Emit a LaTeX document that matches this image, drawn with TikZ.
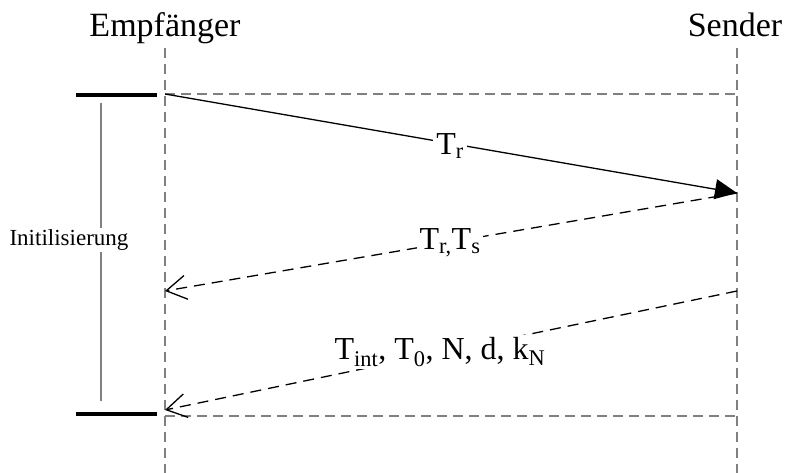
\documentclass[tikz,border=0pt]{standalone}
\usepackage{fontspec}
\setmainfont{Liberation Serif}
\usetikzlibrary{arrows.meta}
\tikzset{
  lifeline/.style={draw=gray, line width=1.2pt, dash pattern=on 10pt off 6pt},
  bar/.style={draw=black, line width=4pt},
  msg/.style={draw=black, line width=1.3pt},
  dmsg/.style={msg, dash pattern=on 11pt off 7pt},
  head/.style={font=\fontsize{34}{40}\selectfont, anchor=base},
  lbl/.style={font=\fontsize{32}{38}\selectfont, fill=white, inner sep=3pt},
  small/.style={font=\fontsize{23}{27}\selectfont, fill=white, inner sep=2pt}
}
\begin{document}
\begin{tikzpicture}[x=1pt,y=-1pt]
\useasboundingbox (0,0) rectangle (785,473);
% headers
\node[head] (E) at (165,37) {Empfänger};
\node[head] (S) at (735,37) {Sender};
% lifelines
\coordinate (Etop) at (165,48);
\coordinate (Ebot) at (165,473);
\coordinate (Stop) at (737,48);
\coordinate (Sbot) at (737,473);
\draw[lifeline] (Etop) -- (Ebot);
\draw[lifeline] (Stop) -- (Sbot);
% horizontal gray dashed
\coordinate (e1) at (165,94);
\coordinate (s1) at (737,94);
\coordinate (e4) at (165,416);
\coordinate (s4) at (737,416);
\draw[lifeline] (e1) -- (s1);
\draw[lifeline] (e4) -- (s4);
% bars
\coordinate (b1l) at (76,95);
\coordinate (b1r) at (157,95);
\coordinate (b2l) at (76,414);
\coordinate (b2r) at (157,414);
\draw[bar] (b1l) -- (b1r);
\draw[bar] (b2l) -- (b2r);
% init line
\coordinate (it) at (101,103);
\coordinate (ib) at (101,401);
\draw[gray, line width=1.2pt] (it) -- (ib);
\node[small] (init) at (69,240) {Initilisierung};
% messages
\coordinate (s2) at (737,193);
\coordinate (e2) at (165,291);
\coordinate (s3) at (737,291);
\coordinate (e3) at (165,410);
\draw[msg, -{Triangle[length=22pt,width=20pt]}] (e1) -- (s2);
\draw[dmsg, -{Straight Barb[length=20pt,width=24pt,line width=1.3pt]}] (s2) -- (e2);
\draw[dmsg, -{Straight Barb[length=20pt,width=24pt,line width=1.3pt]}] (s3) -- (e3);
\node[lbl] (l1) at (450,146) {T\textsubscript{r}};
\node[lbl] (l2) at (450,243) {T\textsubscript{r,}T\textsubscript{s}};
\node[lbl] (l3) at (440,352) {T\textsubscript{int}, T\textsubscript{0}, N, d, k\textsubscript{N}};
\end{tikzpicture}
\end{document}
